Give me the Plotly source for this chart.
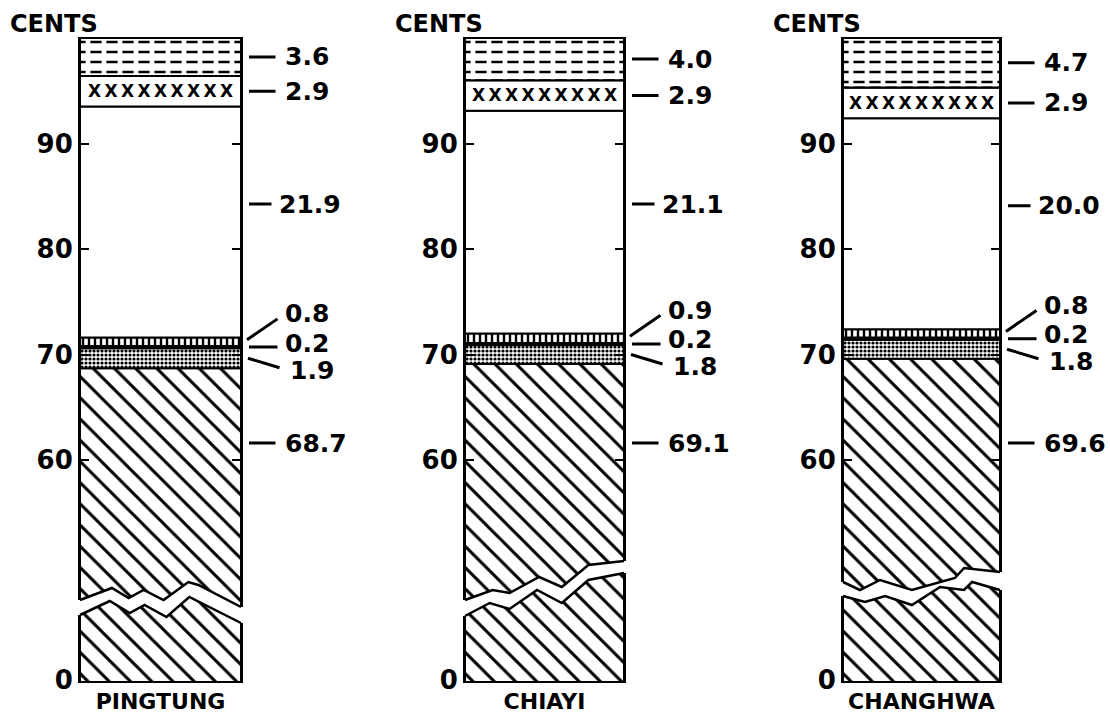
import numpy as np
import plotly.graph_objects as go

# ---------------- data (cents of each component, bottom to top) ----------------
regions = ["PINGTUNG", "CHIAYI", "CHANGHWA"]
seg_hatched = [68.7, 69.1, 69.6]
seg_stipple = [1.9, 1.8, 1.8]
seg_black = [0.2, 0.2, 0.2]
seg_squares = [0.8, 0.9, 0.8]
seg_blank = [21.9, 21.1, 20.0]
seg_cross = [2.9, 2.9, 2.9]
seg_dashes = [3.6, 4.0, 4.7]
upper_ticks = [60, 70, 80, 90]
label_value_hatched = 61.6   # where the big bottom value is labelled

segments = [seg_hatched, seg_stipple, seg_black, seg_squares, seg_blank, seg_cross, seg_dashes]

# ---------------- layout constants (pixels) ----------------
W, H = 1110, 714
K = 10.55          # px per cent
TOP_PY = 38        # pixel row of 100 cents
ZERO_PY = 680      # pixel row where "0" is shown (broken axis)
BOTTOM_PY = 681    # bottom of plotting area
BAR_X = [(80, 241), (465, 624), (843, 1000)]
FONT = "DejaVu Sans"

# zigzag break lines: (fraction across bar, pixel row)
ZIG_UP = [
    [(0, 600), (0.198, 588), (0.302, 598), (0.395, 590), (0.519, 600), (0.673, 582), (0.735, 585), (1, 607)],
    [(0, 600), (0.174, 590), (0.280, 593), (0.466, 577), (0.609, 587), (0.776, 565), (1, 561)],
    [(0, 582), (0.108, 590), (0.236, 580), (0.439, 590), (0.713, 578), (0.771, 568), (1, 572)],
]
ZIG_LO = [
    [(0, 615), (0.185, 601), (0.309, 613), (0.401, 605), (0.537, 617), (0.679, 597), (1, 623)],
    [(0, 616), (0.155, 603), (0.280, 609), (0.453, 590), (0.609, 603), (0.776, 580), (1, 573)],
    [(0, 596), (0.140, 602), (0.268, 596), (0.439, 605), (0.618, 587), (0.771, 590), (0.822, 582), (1, 590)],
]


def px(x):
    return x / W


def py(y):
    return 1 - y / H


def ax_name(letter, n):
    return letter if n == 1 else f"{letter}{n}"


def layout_key(letter, n):
    return f"{letter}axis" if n == 1 else f"{letter}axis{n}"


# per-segment pattern styles
styles = [
    dict(color="white", pattern=dict(shape="\\", size=15, solidity=0.2, fgcolor="black", bgcolor="white", fgopacity=1)),
    dict(color="white", pattern=dict(shape=".", size=4, solidity=0.5, fgcolor="black", bgcolor="white", fgopacity=1)),
    dict(color="black", pattern=dict(shape="")),
    dict(color="white", pattern=dict(shape="|", size=6, solidity=0.4, fgcolor="black", bgcolor="white", fgopacity=1)),
    dict(color="white", pattern=dict(shape="")),
    dict(color="white", pattern=dict(shape="")),
    dict(color="white", pattern=dict(shape="-", size=10, solidity=0.25, fgcolor="black", bgcolor="white", fgopacity=1)),
]

# label leader configs: (start_dx, start_dy, end_dx, end_dy, text_dx, text_dy)
leaders = [
    (8, 0, 36, 0, 42, 0),
    (7, 0, 40, 10, 47, 12),
    (8, 0, 38, 0, 42, -4),
    (6, -2, 38, -24, 42, -28),
    (8, 0, 32, 0, 36, 0),
    (8, 0, 36, 0, 42, 0),
    (8, 0, 36, 0, 42, 0),
]

# axis value at which the broken axis shows "0"
axis_zero = 100 - (ZERO_PY - TOP_PY) / K
y_range = [100 - (BOTTOM_PY - TOP_PY) / K, 100 + (TOP_PY - 37) / K]

fig = go.Figure()
layout = {}
shapes = []
annotations = []

for p, region in enumerate(regions):
    vals = np.array([s[p] for s in segments])
    bases = np.concatenate([[0], np.cumsum(vals)[:-1]])
    n = p + 1
    xa, ya = ax_name("x", n), ax_name("y", n)
    x0, x1 = BAR_X[p]

    for j, (v, b) in enumerate(zip(vals, bases)):
        st = styles[j]
        kw = {}
        if j == 5:
            kw = dict(text=["X\u2009X\u2009X\u2009X\u2009X\u2009X\u2009X\u2009X\u2009X"],
                      textposition="inside", insidetextanchor="middle",
                      textangle=0, textfont=dict(family=FONT, size=17, color="black", weight="bold"))
        fig.add_trace(go.Bar(x=[0], y=[v], base=[b], width=1, opacity=1,
                             marker=dict(color=st["color"], line=dict(color="black", width=2),
                                         pattern=st["pattern"]),
                             xaxis=xa, yaxis=ya, hoverinfo="skip", **kw))
    # white gaps that break the top horizontal rules into dashes
    fig.add_trace(go.Bar(x=[0], y=[vals[6]], base=[bases[6]], width=1, opacity=1,
                         marker=dict(color="rgba(0,0,0,0)", line=dict(color="black", width=2),
                                     pattern=dict(shape="|", size=16, solidity=0.3, fgcolor="white",
                                                  bgcolor="rgba(0,0,0,0)", fgopacity=1)),
                         xaxis=xa, yaxis=ya, hoverinfo="skip"))

    layout[layout_key("x", n)] = dict(
        domain=[px(x0), px(x1)], range=[-0.5, 0.5], anchor=ya, automargin=False,
        tickvals=[0], ticktext=[region], ticks="", showgrid=False, zeroline=False,
        showline=True, linecolor="black", linewidth=2,
        ticklabelstandoff=0,
        tickfont=dict(family=FONT, size=22, color="black", weight="bold"), fixedrange=True)
    layout[layout_key("y", n)] = dict(
        domain=[py(BOTTOM_PY), py(37)], range=y_range, anchor=xa, automargin=False,
        tickvals=[axis_zero] + upper_ticks, ticktext=["0"] + [str(t) for t in upper_ticks],
        ticks="inside", ticklen=9, tickwidth=2, tickcolor="black",
        showline=True, linecolor="black", linewidth=2, mirror="ticks",
        showgrid=False, zeroline=False,
        tickfont=dict(family=FONT, size=26, color="black", weight="bold"))

    # the break: white gap between two zigzag edges
    up_pts = [(x0 + f * (x1 - x0), yy) for f, yy in ZIG_UP[p]]
    lo_pts = [(x0 + f * (x1 - x0), yy) for f, yy in ZIG_LO[p]]
    poly = [(x0 - 4, up_pts[0][1])] + up_pts + [(x1 + 4, up_pts[-1][1]), (x1 + 4, lo_pts[-1][1])] + \
        lo_pts[::-1] + [(x0 - 4, lo_pts[0][1])]
    path = "M " + " L ".join(f"{px(a):.5f},{py(b):.5f}" for a, b in poly) + " Z"
    shapes.append(dict(type="path", path=path, xref="paper", yref="paper", layer="above",
                       fillcolor="white", line=dict(width=0)))
    for pts in (up_pts, lo_pts):
        path = "M " + " L ".join(f"{px(a):.5f},{py(b):.5f}" for a, b in pts)
        shapes.append(dict(type="path", path=path, xref="paper", yref="paper", layer="above",
                           line=dict(color="black", width=2.5)))

    annotations.append(dict(text="CENTS", x=px(x0 - 72), y=py(24), xref="paper", yref="paper",
                            xanchor="left", yanchor="middle", showarrow=False,
                            font=dict(family=FONT, size=24, color="black", weight="bold")))

    # value labels with leader lines
    for j, (v, b) in enumerate(zip(vals, bases)):
        if j == 0:
            anchor = label_value_hatched
        elif j == 4:
            anchor = b + v / 2 + 18 / K
        else:
            anchor = b + v / 2
        sdx, sdy, edx, edy, tdx, tdy = leaders[j]
        annotations.append(dict(text="", x=0.5, y=anchor, xref=xa, yref=ya,
                                xshift=sdx, yshift=-sdy, ax=edx - sdx, ay=edy - sdy,
                                showarrow=True, arrowhead=0, arrowwidth=3, arrowcolor="black",
                                standoff=0, startstandoff=0))
        annotations.append(dict(text=f"{v:.1f}", x=0.5, y=anchor, xref=xa, yref=ya,
                                xshift=tdx, yshift=-tdy, xanchor="left", yanchor="middle",
                                showarrow=False,
                                font=dict(family=FONT, size=25, color="black", weight="bold")))

fig.update_layout(
    width=W, height=H, margin=dict(l=0, r=0, t=0, b=0, pad=0, autoexpand=False),
    paper_bgcolor="white", plot_bgcolor="white",
    barmode="overlay", showlegend=False,
    shapes=shapes, annotations=annotations,
    **layout,
)

fig.write_html("out.html", config={"displayModeBar": False},
               post_script="document.documentElement.style.margin='0';document.body.style.margin='0';"
                           "document.body.style.overflow='hidden';")
